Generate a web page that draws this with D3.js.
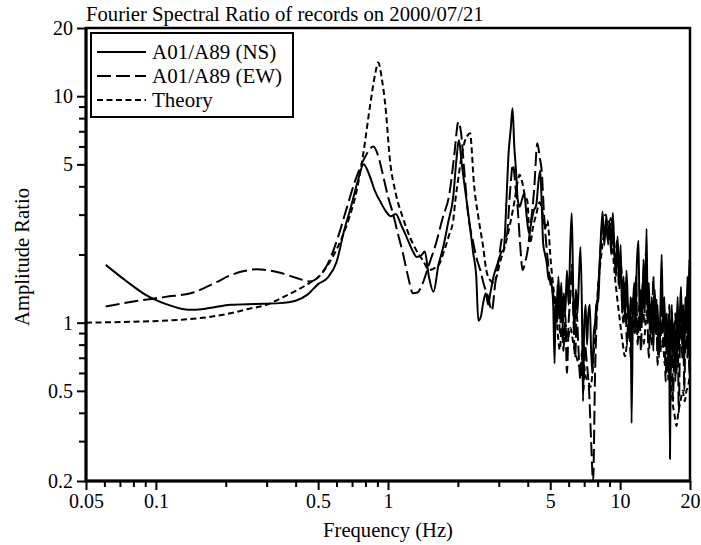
<!DOCTYPE html>
<html>
<head>
<meta charset="utf-8">
<script src="https://cdn.jsdelivr.net/npm/d3@7"></script>
<style>
  body { margin: 0; background: #fff; }
</style>
</head>
<body>
<script>
// Chart text
const titleText = 'Fourier Spectral Ratio of records on 2000/07/21';
const xLabel = 'Frequency (Hz)';
const yLabel = 'Amplitude Ratio';
const seriesNames = ['A01/A89 (NS)', 'A01/A89 (EW)', 'Theory'];

// Axis ticks
const xMajor = [0.05, 0.1, 0.5, 1, 5, 10, 20];
const xMinor = [0.06, 0.07, 0.08, 0.09, 0.2, 0.3, 0.4, 0.6, 0.7, 0.8, 0.9, 2, 3, 4, 6, 7, 8, 9];
const yMajor = [0.2, 0.5, 1, 5, 10, 20];
const yMinor = [0.3, 0.4, 0.6, 0.7, 0.8, 0.9, 2, 3, 4, 6, 7, 8, 9];

// [frequency (Hz), amplitude ratio]
const nsData = [
  [0.0608, 1.80], [0.075, 1.52], [0.09, 1.33], [0.11, 1.21], [0.13, 1.15], [0.145, 1.14],
  [0.17, 1.16], [0.21, 1.20], [0.27, 1.21], [0.34, 1.22], [0.40, 1.25], [0.45, 1.33],
  [0.50, 1.48], [0.55, 1.58], [0.60, 1.85], [0.65, 2.6], [0.69, 3.2], [0.74, 4.2],
  [0.785, 5.0], [0.83, 4.5], [0.88, 3.8], [0.93, 3.4], [0.98, 3.1], [1.03, 2.95],
  [1.08, 3.02], [1.14, 2.7], [1.20, 2.4], [1.27, 2.1], [1.33, 1.95], [1.39, 1.98],
  [1.44, 2.06], [1.50, 1.6], [1.57, 1.37], [1.65, 1.8], [1.73, 2.16], [1.82, 2.8],
  [1.91, 3.6], [1.97, 5.2], [2.02, 6.4], [2.08, 5.0], [2.15, 3.85], [2.24, 2.8],
  [2.33, 2.02], [2.40, 1.6], [2.45, 1.02], [2.51, 1.06], [2.57, 1.22], [2.64, 1.35],
  [2.70, 1.2], [2.76, 1.35], [2.85, 1.6], [2.97, 1.83], [3.08, 2.05], [3.15, 2.1],
  [3.24, 3.5], [3.30, 5.4], [3.38, 7.2], [3.44, 8.85], [3.50, 6.0], [3.56, 4.7],
  [3.62, 3.5], [3.69, 3.25], [3.78, 3.5], [3.86, 3.72], [3.95, 3.0], [4.05, 2.48],
  [4.15, 2.8], [4.25, 3.13], [4.35, 3.3], [4.45, 4.2], [4.53, 4.7], [4.60, 3.2],
  [4.66, 2.24], [4.75, 2.0], [4.83, 1.83], [4.92, 1.55], [5.0, 1.6],
  [5.08, 1.45], [5.15, 1.2], [5.22, 0.66], [5.28, 1.3], [5.35, 1.0], [5.42, 1.6],
  [5.5, 1.1], [5.58, 1.5], [5.65, 0.95], [5.72, 1.35], [5.8, 1.1], [5.9, 1.7],
  [6.0, 1.2], [6.1, 2.2], [6.19, 3.05], [6.27, 1.5], [6.35, 0.89], [6.45, 1.4],
  [6.55, 1.1], [6.65, 1.6], [6.75, 2.16], [6.85, 1.1], [6.92, 0.45], [7.0, 0.95],
  [7.1, 1.2], [7.2, 0.8], [7.3, 1.1], [7.4, 1.2], [7.5, 0.75], [7.6, 0.6],
  [7.7, 0.9], [7.8, 1.0], [7.9, 1.2], [8.05, 1.26], [8.2, 2.0], [8.4, 3.1],
  [8.55, 2.2], [8.7, 2.9], [8.85, 2.3], [9.0, 2.8], [9.15, 2.0], [9.3, 3.05],
  [9.45, 2.1], [9.6, 1.6], [9.75, 2.4], [9.9, 1.5], [10.05, 2.2], [10.2, 1.1],
  [10.35, 1.6], [10.5, 1.0], [10.65, 1.7], [10.8, 1.2], [10.95, 0.85], [11.1, 1.3],
  [11.2, 0.36], [11.35, 1.1], [11.5, 1.5], [11.65, 0.9], [11.8, 1.8], [12.0, 2.3],
  [12.15, 0.95], [12.3, 1.4], [12.45, 1.0], [12.6, 1.9], [12.8, 1.2], [13.0, 2.6],
  [13.15, 1.0], [13.3, 1.5], [13.5, 0.85], [13.7, 1.3], [13.9, 0.75], [14.1, 1.4],
  [14.3, 0.9], [14.5, 1.2], [14.7, 0.7], [14.9, 1.1], [15.1, 2.0], [15.3, 0.95],
  [15.5, 1.3], [15.7, 0.8], [15.9, 1.1], [16.1, 0.6], [16.25, 1.0], [16.4, 0.25],
  [16.55, 0.9], [16.7, 1.2], [16.9, 0.7], [17.1, 1.0], [17.3, 0.55], [17.5, 0.9],
  [17.7, 1.3], [17.9, 0.75], [18.1, 1.1], [18.3, 1.44], [18.5, 0.8], [18.7, 1.2],
  [18.9, 0.65], [19.1, 1.3], [19.3, 0.9], [19.5, 1.6], [19.7, 1.0], [19.85, 1.9],
  [20, 1.5]
];

const ewData = [
  [0.0608, 1.18], [0.08, 1.24], [0.11, 1.30], [0.145, 1.36], [0.18, 1.5], [0.21, 1.62],
  [0.24, 1.69], [0.27, 1.72], [0.31, 1.70], [0.343, 1.66], [0.40, 1.58], [0.46, 1.52],
  [0.51, 1.62], [0.56, 1.89], [0.61, 2.4], [0.66, 3.14], [0.72, 4.2], [0.79, 5.3],
  [0.865, 6.0], [0.91, 5.4], [0.955, 4.41], [1.0, 3.6], [1.05, 3.04], [1.10, 2.5],
  [1.16, 2.02], [1.22, 1.6], [1.28, 1.35], [1.34, 1.36], [1.41, 1.49], [1.50, 1.8],
  [1.61, 2.24], [1.72, 2.9], [1.84, 3.72], [1.93, 5.5], [2.01, 7.7], [2.06, 7.0],
  [2.13, 4.7], [2.22, 2.93], [2.32, 2.3], [2.40, 1.95], [2.50, 1.7], [2.6, 1.45],
  [2.7, 1.3], [2.8, 1.13], [2.9, 1.5], [3.0, 1.9], [3.12, 2.4], [3.24, 2.4],
  [3.36, 3.85], [3.45, 5.0], [3.55, 3.9], [3.62, 3.2], [3.7, 2.3], [3.8, 1.71],
  [3.9, 1.85], [4.0, 2.1], [4.1, 2.6], [4.26, 3.85], [4.4, 6.2], [4.5, 5.4],
  [4.6, 4.6], [4.7, 3.0], [4.83, 2.1], [5.0, 1.5], [5.17, 1.3],
  [5.3, 1.0], [5.4, 1.5], [5.5, 0.9], [5.6, 1.3], [5.7, 0.75], [5.8, 1.1],
  [5.9, 0.6], [6.0, 1.0], [6.1, 1.3], [6.2, 1.8], [6.3, 1.0], [6.4, 0.7],
  [6.5, 1.1], [6.6, 0.8], [6.75, 0.56], [6.85, 0.75], [6.95, 0.5], [7.05, 0.8],
  [7.2, 0.65], [7.35, 0.5], [7.5, 0.3], [7.65, 0.2], [7.8, 0.6], [7.95, 1.13],
  [8.1, 1.6], [8.3, 2.4], [8.5, 2.9], [8.7, 3.0], [8.9, 2.2], [9.1, 2.9],
  [9.3, 2.6], [9.5, 1.9], [9.7, 2.3], [9.9, 1.4], [10.1, 1.8], [10.3, 1.0],
  [10.5, 1.5], [10.7, 0.8], [10.9, 1.2], [11.1, 0.7], [11.3, 1.3], [11.5, 0.9],
  [11.7, 1.6], [11.9, 0.8], [12.1, 1.2], [12.3, 0.75], [12.5, 1.5], [12.7, 1.0],
  [12.9, 2.0], [13.1, 1.1], [13.3, 0.7], [13.5, 1.2], [13.7, 0.8], [13.9, 1.6],
  [14.1, 0.9], [14.3, 1.3], [14.5, 0.65], [14.7, 1.0], [14.9, 0.75], [15.1, 1.4],
  [15.3, 0.8], [15.5, 1.1], [15.7, 0.55], [15.9, 0.9], [16.1, 0.7], [16.3, 1.2],
  [16.5, 0.6], [16.7, 0.9], [16.9, 0.45], [17.1, 0.8], [17.3, 1.1], [17.5, 0.6],
  [17.7, 0.95], [17.9, 0.4], [18.1, 0.85], [18.3, 1.2], [18.5, 0.7], [18.7, 1.0],
  [18.9, 0.5], [19.1, 0.9], [19.3, 1.3], [19.5, 0.7], [19.7, 1.1], [19.85, 0.6],
  [20, 1.2]
];

const theoryData = [
  [0.05, 1.0], [0.08, 1.01], [0.127, 1.03], [0.17, 1.06], [0.209, 1.10], [0.25, 1.15],
  [0.30, 1.2], [0.35, 1.29], [0.405, 1.39], [0.46, 1.5], [0.508, 1.61], [0.56, 1.85],
  [0.62, 2.26], [0.68, 2.9], [0.734, 3.85], [0.783, 5.6], [0.84, 9.3], [0.88, 12.5],
  [0.908, 14.1], [0.94, 12.0], [0.975, 9.0], [1.02, 5.2], [1.08, 3.72], [1.16, 2.9],
  [1.24, 2.4], [1.32, 2.1], [1.41, 1.89], [1.51, 1.71], [1.6, 1.75], [1.67, 1.83],
  [1.73, 2.02], [1.84, 2.47], [1.91, 2.83], [1.95, 3.46], [2.0, 4.2], [2.06, 5.2],
  [2.14, 6.3], [2.2, 6.7], [2.26, 6.86], [2.29, 6.0], [2.33, 4.5], [2.45, 2.93],
  [2.57, 2.16], [2.65, 1.71], [2.74, 1.55], [2.85, 1.5], [2.94, 1.6], [3.03, 1.83],
  [3.2, 2.2], [3.36, 2.74], [3.5, 3.4], [3.62, 4.2], [3.69, 4.5], [3.78, 4.2],
  [3.9, 3.6], [3.98, 3.46], [4.1, 2.24], [4.2, 2.6], [4.35, 3.0], [4.5, 3.4],
  [4.65, 3.0], [4.75, 2.6], [4.86, 2.83], [4.93, 2.5], [5.0, 2.0], [5.17, 1.4],
  [5.3, 1.1], [5.5, 0.76], [5.6, 0.95], [5.7, 0.8], [5.8, 1.0], [5.95, 0.85],
  [6.1, 0.95], [6.3, 0.8], [6.5, 0.7], [6.7, 0.64], [6.9, 0.7], [7.1, 0.58],
  [7.3, 0.55], [7.45, 0.52], [7.6, 0.6], [7.8, 0.9], [8.05, 1.48], [8.3, 2.0],
  [8.6, 2.6], [8.9, 2.8], [9.2, 2.48], [9.4, 1.8], [9.7, 1.3], [10.0, 1.0],
  [10.2, 0.85], [10.5, 0.71], [10.8, 0.9], [11.1, 1.1], [11.4, 1.3], [11.7, 1.1],
  [12.0, 0.9], [12.3, 0.85], [12.6, 0.8], [12.9, 1.0], [13.2, 1.2], [13.5, 1.0],
  [13.8, 0.9], [14.1, 1.1], [14.4, 0.85], [14.7, 0.9], [15.0, 0.75], [15.3, 0.8],
  [15.6, 0.65], [15.9, 0.7], [16.2, 0.55], [16.5, 0.6], [16.8, 0.45], [17.1, 0.4],
  [17.5, 0.35], [17.8, 0.4], [18.2, 0.45], [18.6, 0.5], [19.0, 0.45], [19.3, 0.5],
  [19.6, 0.52], [20, 0.6]
];

// Layout
const width = 701;
const height = 545;
const margin = { top: 28, right: 11, bottom: 64, left: 86 };
const innerWidth = width - margin.left - margin.right;
const innerHeight = height - margin.top - margin.bottom;
const serif = '"Liberation Serif", serif';

const svg = d3.select('body')
  .append('svg')
  .attr('width', width)
  .attr('height', height);

const xScale = d3.scaleLog().domain([0.05, 20]).range([0, innerWidth]);
const yScale = d3.scaleLog().domain([0.2, 20]).range([innerHeight, 0]);

const g = svg.append('g')
  .attr('transform', `translate(${margin.left}, ${margin.top})`);

// Clip so spikes stay inside the frame
g.append('clipPath')
  .attr('id', 'plot-clip')
  .append('rect')
  .attr('width', innerWidth)
  .attr('height', innerHeight);

// Axes: labelled major ticks, then unlabelled minor ticks
function styleAxis(sel) {
  sel.attr('font-family', null).attr('font-size', null);
  sel.select('.domain').remove();
  sel.selectAll('line').attr('stroke', '#000').attr('stroke-width', 2);
  sel.selectAll('text')
    .style('font-family', serif)
    .style('font-size', '20px')
    .attr('fill', '#000');
}

g.append('g')
  .attr('transform', `translate(0, ${innerHeight})`)
  .call(d3.axisBottom(xScale).tickValues(xMajor).tickFormat(d3.format('~g')).tickSize(9).tickPadding(4))
  .call(styleAxis);

g.append('g')
  .attr('transform', `translate(0, ${innerHeight})`)
  .call(d3.axisBottom(xScale).tickValues(xMinor).tickFormat('').tickSize(6))
  .call(styleAxis);

g.append('g')
  .call(d3.axisLeft(yScale).tickValues(yMajor).tickFormat(d3.format('~g')).tickSize(9).tickPadding(4))
  .call(styleAxis);

g.append('g')
  .call(d3.axisLeft(yScale).tickValues(yMinor).tickFormat('').tickSize(7))
  .call(styleAxis);

// Data lines
const line = d3.line()
  .x(d => xScale(d[0]))
  .y(d => yScale(d[1]))
  .curve(d3.curveMonotoneX);

const series = [
  { data: nsData, dash: null },
  { data: ewData, dash: '14,5' },
  { data: theoryData, dash: '6,3.5' }
];

const plot = g.append('g').attr('clip-path', 'url(#plot-clip)');

series.forEach(s => {
  plot.append('path')
    .datum(s.data)
    .attr('d', line)
    .attr('fill', 'none')
    .attr('stroke', '#000')
    .attr('stroke-width', 2)
    .attr('stroke-linejoin', 'round')
    .attr('stroke-dasharray', s.dash);
});

// Frame: heavier left and bottom axes, lighter top and right
g.append('rect')
  .attr('width', innerWidth)
  .attr('height', innerHeight)
  .attr('fill', 'none')
  .attr('stroke', '#000')
  .attr('stroke-width', 2.5);

g.append('path')
  .attr('d', `M0,0V${innerHeight}H${innerWidth}`)
  .attr('fill', 'none')
  .attr('stroke', '#000')
  .attr('stroke-width', 3);

// Legend
const legend = g.append('g').attr('transform', 'translate(5, 5)');

legend.append('rect')
  .attr('width', 202)
  .attr('height', 84)
  .attr('fill', '#fff')
  .attr('stroke', '#000')
  .attr('stroke-width', 2);

series.forEach((s, i) => {
  const yRow = 19 + i * 24;
  legend.append('line')
    .attr('x1', 6)
    .attr('x2', 55)
    .attr('y1', yRow)
    .attr('y2', yRow)
    .attr('stroke', '#000')
    .attr('stroke-width', 2)
    .attr('stroke-dasharray', s.dash);
  legend.append('text')
    .attr('x', 61)
    .attr('y', yRow + 7)
    .style('font-family', serif)
    .style('font-size', '21px')
    .text(seriesNames[i]);
});

// Title and axis labels
svg.append('text')
  .attr('x', margin.left)
  .attr('y', 21)
  .style('font-family', serif)
  .style('font-size', '20.7px')
  .text(titleText);

svg.append('text')
  .attr('x', margin.left + innerWidth / 2)
  .attr('y', 537)
  .attr('text-anchor', 'middle')
  .style('font-family', serif)
  .style('font-size', '20.6px')
  .text(xLabel);

svg.append('text')
  .attr('transform', 'rotate(-90)')
  .attr('x', -257)
  .attr('y', 29)
  .attr('text-anchor', 'middle')
  .style('font-family', serif)
  .style('font-size', '20.6px')
  .text(yLabel);
</script>
</body>
</html>
